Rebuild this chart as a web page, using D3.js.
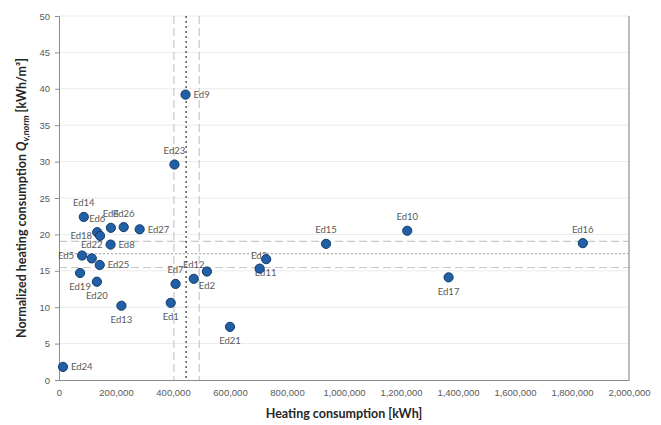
<!DOCTYPE html>
<html>
<head>
<meta charset="utf-8">
<script src="https://cdn.jsdelivr.net/npm/d3@7"></script>
<style>
  html, body { margin: 0; padding: 0; background: #fff; }
  svg { display: block; font-family: Lato, "Open Sans", "Liberation Sans", sans-serif; }
</style>
</head>
<body>
<div id="chart"></div>
<script>
// Buildings: annual heating consumption vs. volume-normalised consumption
const buildings = ["Ed1","Ed2","Ed3","Ed4","Ed5","Ed6","Ed7","Ed8","Ed9","Ed10",
  "Ed11","Ed12","Ed13","Ed14","Ed15","Ed16","Ed17","Ed18","Ed19","Ed20",
  "Ed21","Ed22","Ed23","Ed24","Ed25","Ed26","Ed27"];
const heatingKWh = [392000, 519000, 727000, 182000, 81000, 134000, 409000, 181000, 444000, 1222000,
  704000, 473000, 219000, 87000, 937000, 1838000, 1367000, 144000, 74000, 133000,
  600000, 115000, 405000, 14000, 143000, 227000, 283000];
const normConsumption = [10.6, 14.9, 16.6, 20.9, 17.1, 20.3, 13.2, 18.6, 39.2, 20.5,
  15.3, 13.9, 10.2, 22.4, 18.7, 18.8, 14.1, 19.8, 14.7, 13.5,
  7.3, 16.7, 29.6, 1.8, 15.8, 21.0, 20.7];

// Reference lines: median with lower / upper bounds
const xRefLines = [403000, 446000, 492000];
const yRefLines = [15.45, 17.35, 19.05];

const xTicks = [0, 200000, 400000, 600000, 800000, 1000000, 1200000, 1400000, 1600000, 1800000, 2000000];
const yTicks = [0, 5, 10, 15, 20, 25, 30, 35, 40, 45, 50];

const W = 661, H = 425;
const margin = { top: 16, right: 32, bottom: 45, left: 59 };
const iw = W - margin.left - margin.right;
const ih = H - margin.top - margin.bottom;

const svg = d3.select("#chart").append("svg").attr("width", W).attr("height", H);
const g = svg.append("g").attr("transform", `translate(${margin.left},${margin.top})`);

const x = d3.scaleLinear().domain([0, 2000000]).range([0, iw]);
const y = d3.scaleLinear().domain([0, 50]).range([ih, 0]);

// horizontal gridlines
g.append("g").selectAll("line").data(yTicks.slice(1)).join("line")
  .attr("x1", 0).attr("x2", iw)
  .attr("y1", d => y(d)).attr("y2", d => y(d))
  .attr("stroke", "#ebebeb").attr("stroke-width", 1);

// reference lines (bounds dashed, median dotted)
const refStyle = [
  { color: "#c8c8c8", dash: "8,4", width: 1 },
  { color: "#b0b0b0", dash: "2,2", width: 1 },
  { color: "#c8c8c8", dash: "8,4", width: 1 }
];
g.append("g").selectAll("line").data(yRefLines).join("line")
  .attr("x1", 0).attr("x2", iw)
  .attr("y1", d => y(d)).attr("y2", d => y(d))
  .attr("stroke", (d, i) => refStyle[i].color)
  .attr("stroke-dasharray", (d, i) => refStyle[i].dash)
  .attr("stroke-width", 1.2);

const vStyle = [
  { color: "#c8c8c8", dash: "8,4" },
  { color: "#303030", dash: "2,3" },
  { color: "#c8c8c8", dash: "8,4" }
];
g.append("g").selectAll("line").data(xRefLines).join("line")
  .attr("x1", d => x(d)).attr("x2", d => x(d))
  .attr("y1", 0).attr("y2", ih)
  .attr("stroke", (d, i) => vStyle[i].color)
  .attr("stroke-dasharray", (d, i) => vStyle[i].dash)
  .attr("stroke-width", 1.2);

// axes
const yAxis = g.append("g")
  .call(d3.axisLeft(y).tickValues(yTicks).tickSize(4).tickPadding(5).tickFormat(d3.format("d")));
yAxis.select(".domain").attr("stroke", "#8c8c8c");
yAxis.selectAll(".tick line").attr("stroke", "#8c8c8c");
yAxis.selectAll(".tick text").attr("fill", "#595959").style("font-size", "9.5px");

const xAxis = g.append("g").attr("transform", `translate(0,${ih})`)
  .call(d3.axisBottom(x).tickValues(xTicks).tickSize(0).tickPadding(9).tickFormat(d3.format(",")));
xAxis.select(".domain").attr("stroke", "#8c8c8c");
xAxis.selectAll(".tick text").attr("fill", "#595959").style("font-size", "9.5px");

// right frame line
g.append("line").attr("x1", iw).attr("x2", iw).attr("y1", 0).attr("y2", ih)
  .attr("stroke", "#a6a6a6").attr("stroke-width", 1.5);

// points
const pts = buildings.map((name, i) => ({ name, hx: heatingKWh[i], hy: normConsumption[i] }));

const side = {
  Ed1: "below", Ed2: "below", Ed3: "upLeft", Ed4: "above", Ed5: "left", Ed6: "above",
  Ed7: "above", Ed8: "right", Ed9: "right", Ed10: "above", Ed11: "downRight", Ed12: "above",
  Ed13: "below", Ed14: "above", Ed15: "above", Ed16: "above", Ed17: "below", Ed18: "left",
  Ed19: "below", Ed20: "below", Ed21: "below", Ed22: "above", Ed23: "above", Ed24: "right",
  Ed25: "right", Ed26: "above", Ed27: "right"
};
const place = {
  above:     { dx: 0,  dy: -10.5, anchor: "middle" },
  below:     { dx: 0,  dy: 17.5,  anchor: "middle" },
  right:     { dx: 8,  dy: 3.5,   anchor: "start" },
  left:      { dx: -8, dy: 3.5,   anchor: "end" },
  upLeft:    { dx: 1,  dy: 0,     anchor: "end" },
  downRight: { dx: 6,  dy: 7.5,   anchor: "middle" }
};

g.append("g").selectAll("text").data(pts).join("text")
  .attr("x", d => x(d.hx) + place[side[d.name]].dx)
  .attr("y", d => y(d.hy) + place[side[d.name]].dy)
  .attr("text-anchor", d => place[side[d.name]].anchor)
  .attr("fill", "#595959")
  .style("font-size", "9.5px")
  .text(d => d.name);

g.append("g").selectAll("circle").data(pts).join("circle")
  .attr("cx", d => x(d.hx))
  .attr("cy", d => y(d.hy))
  .attr("r", 4.6)
  .attr("fill", "#2160a6")
  .attr("stroke", "#123a68")
  .attr("stroke-width", 1);

// axis titles
svg.append("text")
  .attr("x", margin.left + iw / 2).attr("y", 418)
  .attr("text-anchor", "middle")
  .attr("fill", "#262626")
  .style("font-size", "12.5px").style("font-weight", "bold")
  .text("Heating consumption [kWh]");

const yt = svg.append("text")
  .attr("transform", `translate(26,${margin.top + ih / 2}) rotate(-90)`)
  .attr("text-anchor", "middle")
  .attr("fill", "#262626")
  .style("font-size", "12.5px").style("font-weight", "bold");
yt.append("tspan").text("Normalized heating consumption ");
yt.append("tspan").style("font-style", "italic").text("Q");
yt.append("tspan").style("font-style", "italic").style("font-size", "9px").attr("dy", 3).text("v,norm");
yt.append("tspan").attr("dy", -3).text(" [kWh/m\u00B3]");
</script>
</body>
</html>
